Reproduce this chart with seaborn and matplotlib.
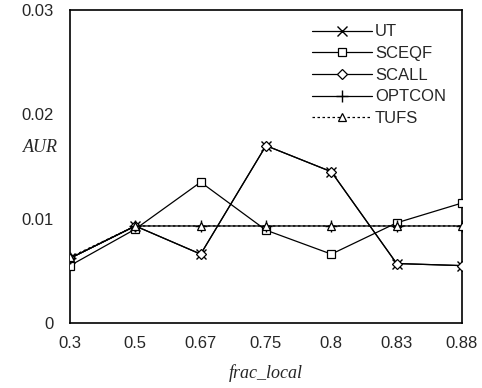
import matplotlib
matplotlib.use("Agg")
import matplotlib.pyplot as plt
import seaborn as sns
import pandas as pd

categories = ["0.3", "0.5", "0.67", "0.75", "0.8", "0.83", "0.88"]
ut = [0.0062, 0.0093, 0.0066, 0.0170, 0.0145, 0.0057, 0.0055]
sceqf = [0.0055, 0.0090, 0.0135, 0.0089, 0.0066, 0.0096, 0.0115]
scall = [0.0062, 0.0093, 0.0066, 0.0170, 0.0145, 0.0057, 0.0055]
optcon = [0.0062, 0.0093, 0.0093, 0.0093, 0.0093, 0.0093, 0.0093]
tufs = [0.0063, 0.0093, 0.0093, 0.0093, 0.0093, 0.0093, 0.0093]
series_names = ["UT", "SCEQF", "SCALL", "OPTCON", "TUFS"]
y_ticks = [0, 0.01, 0.02, 0.03]
y_tick_labels = ["0", "0.01", "0.02", "0.03"]

sns.set_style("white")
plt.rcParams["font.family"] = ["Liberation Sans", "DejaVu Sans"]

fig = plt.figure(figsize=(4.82, 3.88), dpi=100)
ax = fig.add_axes([70/482, 1-323/388, 392/482, 313/388])

styles = {
    "UT": dict(marker="x", linestyle="-", ms=7.5, mew=1.0),
    "SCEQF": dict(marker="s", linestyle="-", ms=6, mew=0.9),
    "SCALL": dict(marker="D", linestyle="-", ms=5.5, mew=0.9),
    "OPTCON": dict(marker="+", linestyle="-", ms=8, mew=1.0),
    "TUFS": dict(marker="^", linestyle=(0, (2, 2)), ms=6, mew=0.9),
}
values = [ut, sceqf, scall, optcon, tufs]
for name, vals in zip(series_names, values):
    df = pd.DataFrame({"x": categories, "y": vals})
    st = styles[name]
    sns.lineplot(data=df, x="x", y="y", ax=ax, color="black", lw=0.9,
                 marker=st["marker"], markersize=st["ms"], markeredgewidth=st["mew"],
                 markerfacecolor="white" if st["marker"] not in ("x", "+") else "black",
                 markeredgecolor="black", linestyle=st["linestyle"],
                 label=name, sort=False, zorder=3)

ax.set_xlim(0, len(categories) - 1)
ax.set_ylim(0, 0.03)
ax.set_yticks(y_ticks)
ax.set_yticklabels(y_tick_labels)
ax.tick_params(axis="both", direction="in", length=5, width=1, color="black",
               labelsize=12)
ax.tick_params(axis="y", pad=12)
ax.tick_params(axis="x", pad=9)
for sp in ax.spines.values():
    sp.set_visible(True)
    sp.set_color("black")
    sp.set_linewidth(1.2)

ax.set_xlabel("frac_local", fontsize=13, style="italic",
              family=["Liberation Serif", "DejaVu Serif"], labelpad=10)
ax.set_ylabel("")
fig.text(40/482, 1-147/388, "AUR", fontsize=13, style="italic",
         family=["Liberation Serif", "DejaVu Serif"], ha="center", va="center")

leg = ax.legend(loc="upper left", bbox_to_anchor=(235/392, 0.975), frameon=False,
                fontsize=12, handlelength=3.6, handletextpad=0.2, labelspacing=0.4,
                borderaxespad=0)

fig.savefig("out.png", dpi=100)
